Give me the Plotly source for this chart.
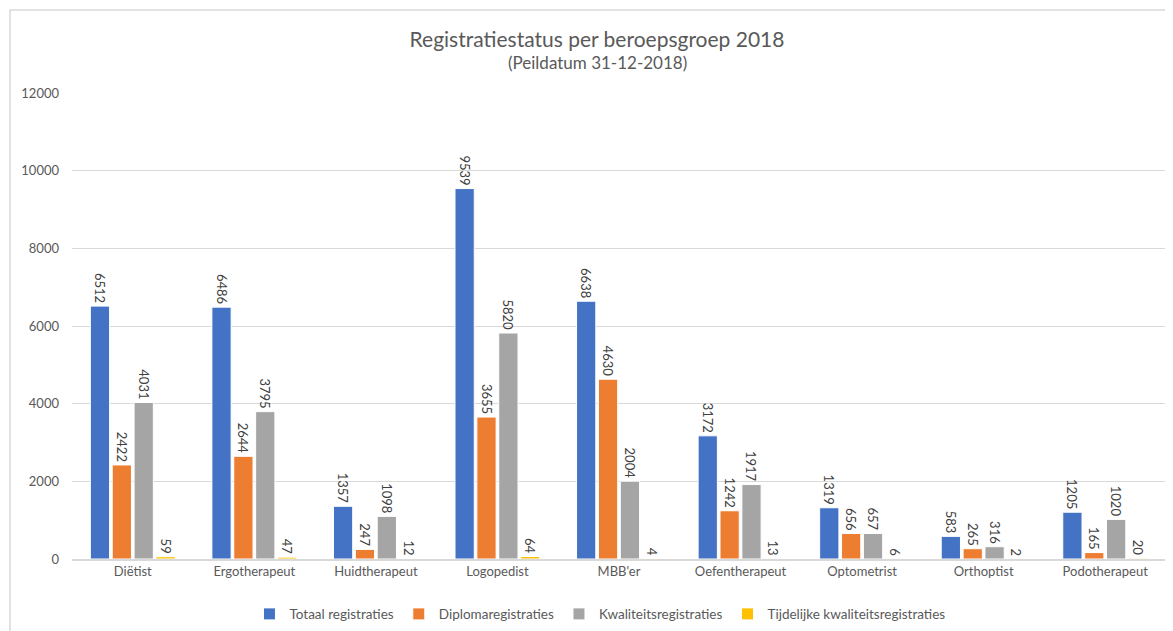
import plotly.graph_objects as go

# categories and series
beroepen = ["Diëtist", "Ergotherapeut", "Huidtherapeut", "Logopedist", "MBB'er",
            "Oefentherapeut", "Optometrist", "Orthoptist", "Podotherapeut"]
totaal = [6512, 6486, 1357, 9539, 6638, 3172, 1319, 583, 1205]
diploma = [2422, 2644, 247, 3655, 4630, 1242, 656, 265, 165]
kwaliteit = [4031, 3795, 1098, 5820, 2004, 1917, 657, 316, 1020]
tijdelijk = [59, 47, 12, 64, 4, 13, 6, 2, 20]

y_ticks = [0, 2000, 4000, 6000, 8000, 10000, 12000]

series = [
    ("Totaal registraties", totaal, "#4472C4"),
    ("Diplomaregistraties", diploma, "#ED7D31"),
    ("Kwaliteitsregistraties", kwaliteit, "#A5A5A5"),
    ("Tijdelijke kwaliteitsregistraties", tijdelijk, "#FFC000"),
]

fig = go.Figure()
for name, vals, col in series:
    fig.add_trace(go.Bar(
        name=name, x=beroepen, y=vals,
        marker=dict(color=col, line=dict(color="white", width=1)),
        text=[str(v) for v in vals], textposition="outside",
        textangle=90, cliponaxis=False, constraintext="none",
        textfont=dict(family="Lato", size=13, color="#404040"),
    ))

# page body has an 8px margin, so the figure is a bit smaller than the window
fig.update_layout(
    width=1165, height=623,
    font=dict(family="Lato", color="#595959"),
    plot_bgcolor="white", paper_bgcolor="white",
    margin=dict(l=64, r=7, t=85, b=72, autoexpand=False),
    barmode="group", bargap=0.28, bargroupgap=0.12,
    title=dict(
        text="Registratiestatus per beroepsgroep 2018",
        x=0.5056, xanchor="center", y=0.949, yanchor="middle",
        font=dict(family="Lato", size=21, color="#595959"),
    ),
    annotations=[dict(text="(Peildatum 31-12-2018)", xref="paper", yref="paper",
                      x=0.48, y=1.066, xanchor="center", yanchor="middle", showarrow=False,
                      font=dict(family="Lato", size=17, color="#595959"))],
    legend=dict(orientation="h", x=0.4826, xanchor="center", y=-0.085, yanchor="top",
                font=dict(size=13.5, color="#595959"), itemwidth=30, traceorder="normal"),
    shapes=[dict(type="rect", xref="paper", yref="paper",
                 x0=-0.0567, x1=1.0100, y0=-0.3, y1=1.178,
                 line=dict(color="#D9D9D9", width=1.5), layer="below")],
)
fig.update_xaxes(showline=True, linecolor="#D9D9D9", linewidth=1.5, ticks="",
                 automargin=False, tickfont=dict(size=13, color="#595959"))
fig.update_yaxes(range=[0, 12000], tickvals=y_ticks, ticktext=[str(t) for t in y_ticks],
                 showgrid=True, gridcolor="#D9D9D9", automargin=False,
                 gridwidth=1, zeroline=False, ticks="", ticklabelstandoff=12,
                 tickfont=dict(size=13, color="#595959"))

fig.write_html("out.html")
